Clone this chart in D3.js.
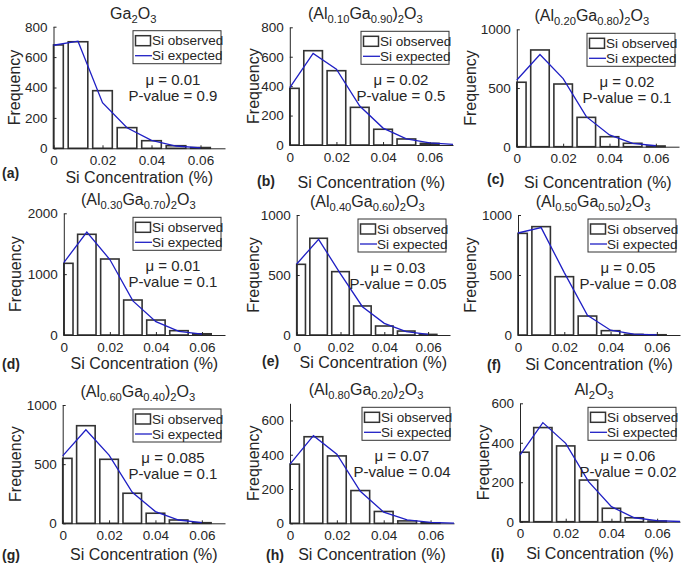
<!DOCTYPE html>
<html>
<head>
<meta charset="utf-8">
<script src="https://cdn.jsdelivr.net/npm/d3@7"></script>
<style>
  body { margin: 0; background: #fff; }
  svg text { font-family: "Liberation Sans", Arial, sans-serif; fill: #262626; }
</style>
</head>
<body>
<div id="chart"></div>
<script>
// Data
const panelTags = ['(a)', '(b)', '(c)', '(d)', '(e)', '(f)', '(g)', '(h)', '(i)'];
const titles = [
  'Ga_{2}O_{3}',
  '(Al_{0.10}Ga_{0.90})_{2}O_{3}',
  '(Al_{0.20}Ga_{0.80})_{2}O_{3}',
  '(Al_{0.30}Ga_{0.70})_{2}O_{3}',
  '(Al_{0.40}Ga_{0.60})_{2}O_{3}',
  '(Al_{0.50}Ga_{0.50})_{2}O_{3}',
  '(Al_{0.60}Ga_{0.40})_{2}O_{3}',
  '(Al_{0.80}Ga_{0.20})_{2}O_{3}',
  'Al_{2}O_{3}'
];
const binCenters = [0, 0.01, 0.02, 0.03, 0.04, 0.05, 0.06, 0.07];
const observed = [
  [680, 701, 379, 136, 50, 17, 5],
  [385, 641, 505, 256, 107, 41, 11],
  [549, 824, 534, 250, 85, 29, 6],
  [1178, 1655, 1249, 575, 246, 71, 20],
  [589, 806, 528, 242, 75, 33, 5],
  [847, 903, 486, 158, 36, 5, 2],
  [549, 825, 541, 254, 85, 28, 5],
  [345, 505, 393, 191, 69, 14, 3],
  [352, 477, 384, 211, 68, 20, 3]
];
const expected = [
  [678, 705, 300, 135, 52, 15, 3],
  [390, 622, 515, 265, 115, 42, 15, 4],
  [568, 785, 580, 256, 100, 29, 8],
  [1190, 1690, 1240, 560, 220, 60, 15],
  [592, 797, 510, 236, 97, 28, 5],
  [850, 895, 520, 165, 40, 8, 1],
  [570, 790, 577, 262, 99, 28, 6],
  [345, 511, 403, 187, 65, 20, 5, 1],
  [338, 502, 397, 203, 76, 20, 5, 1]
];
const muValues = ['0.01', '0.02', '0.02', '0.01', '0.03', '0.05', '0.085', '0.07', '0.06'];
const pValues = ['0.9', '0.5', '0.1', '0.1', '0.05', '0.08', '0.1', '0.04', '0.02'];
const yMaxes = [800, 800, 1000, 2000, 1000, 1000, 1000, 700, 600];
const yTicks = [
  [0, 200, 400, 600, 800],
  [0, 200, 400, 600, 800],
  [0, 500, 1000],
  [0, 1000, 2000],
  [0, 500, 1000],
  [0, 500, 1000],
  [0, 500, 1000],
  [0, 200, 400, 600],
  [0, 200, 400, 600]
];
const xTicks = [0, 0.02, 0.04, 0.06];
const xMax = 0.07;
const barWidth = 0.008;

// Panel placement (page pixels)
const layout = [
  {x0: 53.5, x1: 225, y0: 26.7, y1: 148.3, xlabY: 183, ylabX: 14, tagX: 2, tagY: 178},
  {x0: 289.8, x1: 453, y0: 27.3, y1: 145, xlabY: 187.5, ylabX: 253, tagX: 257, tagY: 186},
  {x0: 516.8, x1: 679, y0: 29.3, y1: 146.7, xlabY: 188, ylabX: 470, tagX: 487, tagY: 184},
  {x0: 63.8, x1: 225, y0: 213.3, y1: 335, xlabY: 369, ylabX: 15, tagX: 2, tagY: 369},
  {x0: 296.7, x1: 450, y0: 215, y1: 335, xlabY: 368, ylabX: 253, tagX: 262, tagY: 366},
  {x0: 518, x1: 680, y0: 215, y1: 335, xlabY: 370, ylabX: 470, tagX: 487, tagY: 370},
  {x0: 62.7, x1: 225, y0: 405, y1: 523.3, xlabY: 560, ylabX: 15, tagX: 2, tagY: 560},
  {x0: 290, x1: 454, y0: 403.3, y1: 523.3, xlabY: 560, ylabX: 253, tagX: 266, tagY: 560},
  {x0: 520, x1: 680, y0: 403.3, y1: 521.7, xlabY: 559, ylabX: 483, tagX: 491, tagY: 559}
];

const ink = '#262626';
const blue = '#1f1fc4';

const svg = d3.select('#chart').append('svg')
  .attr('width', 685)
  .attr('height', 567);

// Split "Ga_{2}O_{3}" into normal / subscript pieces
function parseFormula(str) {
  const parts = [];
  const re = /_\{([^}]*)\}|([^_]+)/g;
  let m;
  while ((m = re.exec(str)) !== null) {
    if (m[1] !== undefined) parts.push({t: m[1], sub: true});
    else parts.push({t: m[2], sub: false});
  }
  return parts;
}

function drawPanel(i) {
  const L = layout[i];
  const g = svg.append('g');

  const x = d3.scaleLinear().domain([0, xMax]).range([L.x0, L.x1]);
  const y = d3.scaleLinear().domain([0, yMaxes[i]]).range([L.y1, L.y0]);

  // Bars (observed)
  g.selectAll('rect.bar')
    .data(observed[i])
    .enter()
    .append('rect')
      .attr('class', 'bar')
      .attr('x', (d, k) => x(Math.max(0, binCenters[k] - barWidth / 2)))
      .attr('width', (d, k) => x(binCenters[k] + barWidth / 2) - x(Math.max(0, binCenters[k] - barWidth / 2)))
      .attr('y', d => y(d))
      .attr('height', d => y(0) - y(d))
      .attr('fill', '#fff')
      .attr('stroke', '#333')
      .attr('stroke-width', 1.6);

  // Axes
  const xAxis = d3.axisBottom(x).tickValues(xTicks).tickSizeInner(-3).tickSizeOuter(0)
    .tickPadding(7).tickFormat(d => d === 0 ? '0' : d3.format('.2f')(d));
  const yAxis = d3.axisLeft(y).tickValues(yTicks[i]).tickSizeInner(-3).tickSizeOuter(0)
    .tickPadding(6).tickFormat(d3.format('d'));

  const gx = g.append('g').attr('transform', `translate(0,${L.y1})`).call(xAxis);
  const gy = g.append('g').attr('transform', `translate(${L.x0},0)`).call(yAxis);
  [gx, gy].forEach(a => {
    a.select('.domain').attr('stroke', ink).attr('stroke-width', 1);
    a.selectAll('.tick line').attr('stroke', ink);
    a.selectAll('.tick text').attr('fill', ink)
      .style('font-size', '13.5px')
      .style('font-family', '"Liberation Sans", Arial, sans-serif');
  });

  // Expected line
  const line = d3.line()
    .x((d, k) => x(binCenters[k]))
    .y(d => y(d));
  g.append('path')
    .datum(expected[i])
    .attr('d', line)
    .attr('fill', 'none')
    .attr('stroke', blue)
    .attr('stroke-width', 1.3);

  // Title
  const title = g.append('text')
    .attr('x', (L.x0 + L.x1) / 2 - 6)
    .attr('y', L.y0 - 8)
    .attr('text-anchor', 'middle')
    .style('font-size', '16px');
  parseFormula(titles[i]).forEach(p => {
    title.append('tspan')
      .attr('baseline-shift', p.sub ? '-4' : null)
      .style('font-size', p.sub ? '11.2px' : null)
      .text(p.t);
  });

  // Axis labels
  g.append('text')
    .attr('x', (L.x0 + L.x1) / 2)
    .attr('y', L.xlabY)
    .attr('text-anchor', 'middle')
    .style('font-size', '16px')
    .text('Si Concentration (%)');

  g.append('text')
    .attr('transform', `translate(${L.ylabX},${(L.y0 + L.y1) / 2}) rotate(-90)`)
    .attr('text-anchor', 'middle')
    .attr('dy', '0.35em')
    .style('font-size', '16px')
    .text('Frequency');

  // Panel tag
  g.append('text')
    .attr('x', L.tagX)
    .attr('y', L.tagY)
    .style('font-size', '14px')
    .style('font-weight', 'bold')
    .attr('fill', '#000')
    .text(panelTags[i]);

  // Legend
  const lw = 88, lh = 33;
  const lx = L.x1 - 4 - lw, ly = L.y0 + 4;
  const leg = g.append('g').attr('transform', `translate(${lx},${ly})`);
  leg.append('rect')
    .attr('width', lw).attr('height', lh)
    .attr('fill', '#fff').attr('stroke', '#333').attr('stroke-width', 1);
  leg.append('rect')
    .attr('x', 2.5).attr('y', 5).attr('width', 15).attr('height', 10)
    .attr('fill', '#fff').attr('stroke', '#333').attr('stroke-width', 1.5);
  leg.append('text').attr('x', 19).attr('y', 14.5)
    .style('font-size', '13.5px').text('Si observed');
  leg.append('line')
    .attr('x1', 2).attr('x2', 19).attr('y1', 25).attr('y2', 25)
    .attr('stroke', blue).attr('stroke-width', 1.3);
  leg.append('text').attr('x', 19).attr('y', 29.5)
    .style('font-size', '13.5px').text('Si expected');

  // Stats
  const sx = L.x1 - 52;
  g.append('text').attr('x', sx).attr('y', L.y0 + 58)
    .attr('text-anchor', 'middle').style('font-size', '15px')
    .text(`\u03bc = ${muValues[i]}`);
  g.append('text').attr('x', sx).attr('y', L.y0 + 74)
    .attr('text-anchor', 'middle').style('font-size', '15px')
    .text(`P-value = ${pValues[i]}`);
}

d3.range(9).forEach(drawPanel);
</script>
</body>
</html>
